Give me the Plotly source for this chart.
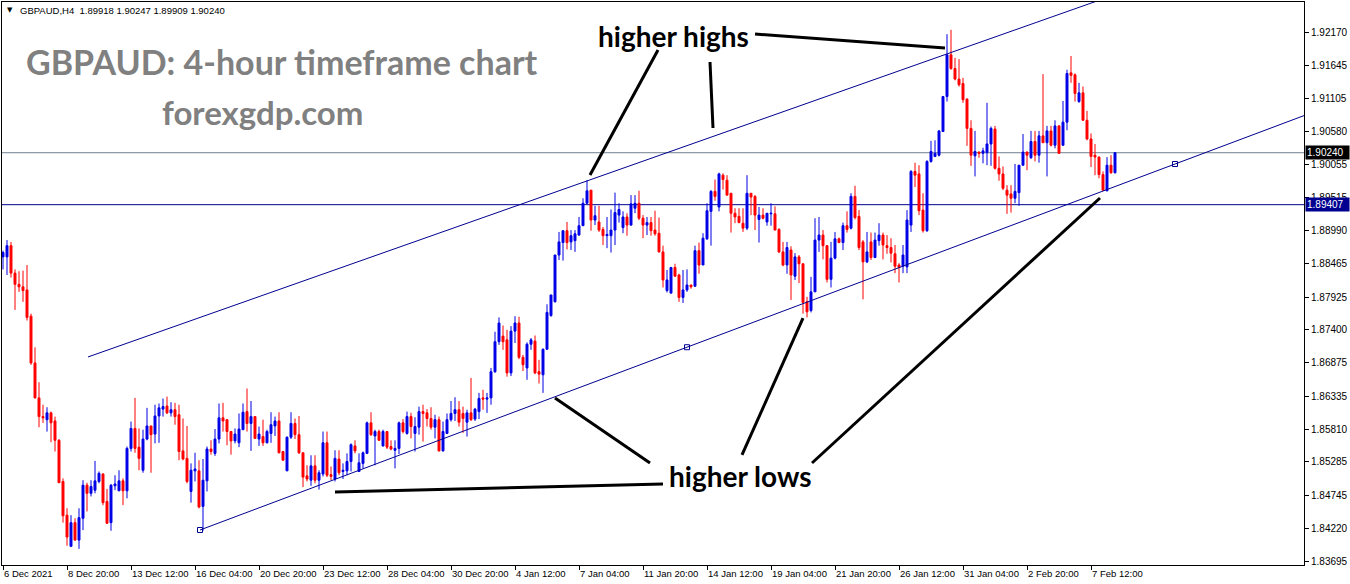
import plotly.graph_objects as go

# ---------------- data (GBPAUD H4 candles) ----------------
opens = [1.8857,1.8857,1.8875,1.8831,1.8813,1.8809,1.8804,1.8762,1.8687,1.8631,
1.8601,1.8596,1.8607,1.8594,1.8563,1.8497,1.8443,1.8393,1.8431,1.8403,
1.8438,1.8491,1.8478,1.8483,1.8497,1.8509,1.8465,1.8431,1.8490,1.8482,
1.8498,1.8482,1.8550,1.8582,1.8552,1.8515,1.8565,1.8586,1.8573,1.8602,
1.8613,1.8618,1.8607,1.8612,1.8604,1.8546,1.8534,1.8481,1.8514,1.8514,
1.8457,1.8498,1.8549,1.8542,1.8565,1.8599,1.8596,1.8577,1.8562,1.8559,
1.8580,1.8609,1.8590,1.8601,1.8565,1.8569,1.8559,1.8574,1.8586,1.8594,
1.8545,1.8514,1.8568,1.8590,1.8572,1.8543,1.8506,1.8499,1.8522,1.8499,
1.8509,1.8559,1.8508,1.8501,1.8533,1.8513,1.8514,1.8529,1.8554,1.8513,
1.8526,1.8542,1.8591,1.8570,1.8577,1.8554,1.8577,1.8553,1.8547,1.8550,
1.8591,1.8574,1.8601,1.8574,1.8584,1.8609,1.8607,1.8598,1.8584,1.8596,
1.8546,1.8574,1.8596,1.8606,1.8612,1.8606,1.8592,1.8607,1.8597,1.8609,
1.8631,1.8629,1.8631,1.8673,1.8721,1.8730,1.8724,1.8671,1.8738,1.8751,
1.8696,1.8679,1.8717,1.8722,1.8673,1.8668,1.8709,1.8763,1.8785,1.8860,
1.8880,1.8899,1.8881,1.8883,1.8892,1.8907,1.8943,1.8964,1.8916,1.8913,
1.8901,1.8891,1.8891,1.8900,1.8924,1.8904,1.8921,1.8908,1.8935,1.8943,
1.8919,1.8908,1.8912,1.8900,1.8895,1.8865,1.8803,1.8799,1.8840,1.8828,
1.8792,1.8804,1.8812,1.8810,1.8867,1.8844,1.8886,1.8930,1.8962,1.8937,
1.8988,1.8980,1.8959,1.8927,1.8922,1.8911,1.8903,1.8959,1.8954,1.8917,
1.8924,1.8913,1.8926,1.8926,1.8901,1.8865,1.8844,1.8868,1.8826,1.8857,
1.8846,1.8785,1.8771,1.8801,1.8884,1.8892,1.8875,1.8821,1.8855,1.8886,
1.8880,1.8907,1.8903,1.8954,1.8922,1.8881,1.8849,1.8881,1.8856,1.8883,
1.8892,1.8875,1.8872,1.8862,1.8844,1.8842,1.8841,1.8908,1.8994,1.8990,
1.8932,1.8899,1.9010,1.9018,1.9020,1.9058,1.9114,1.9181,1.9159,1.9142,
1.9135,1.9110,1.9063,1.9019,1.9025,1.9023,1.9024,1.9038,1.9062,1.8999,
1.8990,1.8964,1.8958,1.8951,1.8960,1.9004,1.9025,1.9016,1.9042,1.9020,
1.9051,1.9040,1.9059,1.9036,1.9067,1.9036,1.9073,1.9152,1.9149,1.9106,
1.9120,1.9076,1.9046,1.9020,1.9017,1.8989,1.8963,1.9004,1.89918]

highs = [1.8867,1.8884,1.8881,1.8837,1.8834,1.8835,1.8844,1.8766,1.8712,1.8656,
1.8620,1.8616,1.8609,1.8601,1.8565,1.8502,1.8454,1.8443,1.8438,1.8454,
1.8499,1.8495,1.8499,1.8530,1.8513,1.8510,1.8485,1.8493,1.8507,1.8515,
1.8502,1.8553,1.8593,1.8631,1.8582,1.8580,1.8615,1.8586,1.8620,1.8622,
1.8630,1.8633,1.8624,1.8623,1.8620,1.8598,1.8586,1.8526,1.8543,1.8531,
1.8533,1.8553,1.8563,1.8581,1.8622,1.8623,1.8597,1.8578,1.8582,1.8606,
1.8622,1.8646,1.8626,1.8601,1.8585,1.8596,1.8580,1.8608,1.8601,1.8608,
1.8545,1.8569,1.8608,1.8598,1.8602,1.8543,1.8523,1.8539,1.8539,1.8515,
1.8577,1.8577,1.8521,1.8547,1.8547,1.8526,1.8542,1.8558,1.8563,1.8542,
1.8545,1.8593,1.8608,1.8580,1.8580,1.8580,1.8577,1.8563,1.8563,1.8593,
1.8597,1.8609,1.8607,1.8600,1.8617,1.8620,1.8613,1.8616,1.8604,1.8601,
1.8593,1.8606,1.8626,1.8632,1.8626,1.8617,1.8612,1.8663,1.8615,1.8639,
1.8644,1.8639,1.8679,1.8737,1.8760,1.8747,1.8740,1.8746,1.8762,1.8761,
1.8700,1.8720,1.8727,1.8731,1.8692,1.8710,1.8781,1.8796,1.8860,1.8897,
1.8899,1.8913,1.8900,1.8900,1.8921,1.8951,1.8980,1.8964,1.8939,1.8939,
1.8905,1.8921,1.8933,1.8960,1.8943,1.8930,1.8927,1.8956,1.8956,1.8963,
1.8924,1.8921,1.8921,1.8931,1.8920,1.8875,1.8836,1.8841,1.8846,1.8830,
1.8836,1.8837,1.8812,1.8875,1.8880,1.8895,1.8943,1.8964,1.8981,1.8992,
1.8991,1.8988,1.8959,1.8935,1.8935,1.8935,1.8988,1.8959,1.8956,1.8937,
1.8935,1.8927,1.8943,1.8938,1.8903,1.8881,1.8881,1.8874,1.8863,1.8860,
1.8846,1.8793,1.8825,1.8919,1.8921,1.8900,1.8876,1.8881,1.8897,1.8888,
1.8912,1.8930,1.8959,1.8971,1.8932,1.8884,1.8897,1.8896,1.8896,1.8911,
1.8896,1.8892,1.8887,1.8876,1.8847,1.8876,1.8932,1.8996,1.9008,1.9004,
1.8959,1.9012,1.9043,1.9044,1.9060,1.9115,1.9214,1.9221,1.9176,1.9174,
1.9144,1.9111,1.9076,1.9059,1.9026,1.9032,1.9104,1.9066,1.9067,1.9018,
1.9002,1.8972,1.8972,1.9006,1.9004,1.9054,1.9026,1.9059,1.9059,1.9059,
1.9150,1.9067,1.9067,1.9076,1.9068,1.9107,1.9157,1.9179,1.9151,1.9136,
1.9130,1.9091,1.9055,1.9038,1.9018,1.8994,1.9017,1.9020,1.90247]

lows = [1.8837,1.8828,1.8824,1.8772,1.8801,1.8785,1.8755,1.8684,1.8630,1.8584,
1.8591,1.8577,1.8560,1.8545,1.8495,1.8431,1.8394,1.8393,1.8402,1.8389,
1.8419,1.8449,1.8473,1.8478,1.8494,1.8459,1.8429,1.8418,1.8483,1.8482,
1.8459,1.8470,1.8545,1.8543,1.8515,1.8511,1.8563,1.8511,1.8558,1.8559,
1.8601,1.8605,1.8601,1.8588,1.8531,1.8531,1.8494,1.8463,1.8497,1.8454,
1.8418,1.8481,1.8540,1.8538,1.8558,1.8577,1.8555,1.8540,1.8558,1.8552,
1.8580,1.8577,1.8546,1.8565,1.8554,1.8554,1.8558,1.8559,1.8570,1.8542,
1.8531,1.8514,1.8565,1.8565,1.8541,1.8488,1.8497,1.8490,1.8494,1.8484,
1.8505,1.8504,1.8499,1.8497,1.8507,1.8501,1.8507,1.8513,1.8542,1.8513,
1.8518,1.8541,1.8570,1.8523,1.8562,1.8553,1.8549,1.8547,1.8518,1.8541,
1.8574,1.8572,1.8566,1.8545,1.8572,1.8561,1.8585,1.8580,1.8566,1.8545,
1.8545,1.8573,1.8593,1.8594,1.8585,1.8575,1.8569,1.8594,1.8594,1.8597,
1.8612,1.8607,1.8620,1.8671,1.8716,1.8708,1.8665,1.8666,1.8719,1.8693,
1.8674,1.8660,1.8708,1.8669,1.8654,1.8639,1.8708,1.8761,1.8784,1.8852,
1.8851,1.8869,1.8868,1.8865,1.8891,1.8907,1.8942,1.8899,1.8908,1.8897,
1.8876,1.8871,1.8864,1.8876,1.8912,1.8895,1.8891,1.8907,1.8927,1.8916,
1.8887,1.8892,1.8891,1.8891,1.8864,1.8808,1.8800,1.8798,1.8825,1.8785,
1.8783,1.8801,1.8806,1.8809,1.8830,1.8844,1.8884,1.8875,1.8947,1.8930,
1.8965,1.8956,1.8896,1.8911,1.8911,1.8897,1.8900,1.8924,1.8900,1.8880,
1.8917,1.8907,1.8907,1.8900,1.8863,1.8842,1.8830,1.8788,1.8820,1.8815,
1.8766,1.8760,1.8768,1.8801,1.8865,1.8853,1.8816,1.8808,1.8853,1.8879,
1.8868,1.8896,1.8901,1.8917,1.8868,1.8789,1.8847,1.8852,1.8855,1.8875,
1.8853,1.8862,1.8848,1.8831,1.8816,1.8831,1.8831,1.8897,1.8969,1.8924,
1.8896,1.8897,1.9008,1.9017,1.9018,1.9058,1.9106,1.9157,1.9140,1.9130,
1.9104,1.9035,1.9003,1.8986,1.9016,1.9007,1.9004,1.9003,1.8997,1.8979,
1.8964,1.8926,1.8928,1.8943,1.8939,1.9003,1.8996,1.9014,1.9010,1.9008,
1.9040,1.8986,1.9034,1.9031,1.9023,1.9035,1.9060,1.9136,1.9106,1.9104,
1.9075,1.9044,1.9001,1.8988,1.8983,1.8963,1.8962,1.8990,1.89909]

closes = [1.8864,1.8875,1.8831,1.8813,1.8809,1.8803,1.8760,1.8687,1.8631,1.8601,
1.8599,1.8607,1.8591,1.8563,1.8495,1.8442,1.8408,1.8431,1.8403,1.8439,
1.8491,1.8478,1.8489,1.8498,1.8510,1.8463,1.8430,1.8491,1.8493,1.8498,
1.8482,1.8550,1.8582,1.8550,1.8534,1.8565,1.8586,1.8572,1.8602,1.8615,
1.8617,1.8607,1.8612,1.8601,1.8545,1.8533,1.8497,1.8515,1.8517,1.8456,
1.8499,1.8549,1.8545,1.8565,1.8599,1.8594,1.8577,1.8562,1.8573,1.8581,
1.8608,1.8590,1.8601,1.8566,1.8573,1.8559,1.8577,1.8588,1.8594,1.8543,
1.8531,1.8568,1.8590,1.8572,1.8543,1.8504,1.8501,1.8522,1.8499,1.8511,
1.8559,1.8507,1.8505,1.8534,1.8511,1.8515,1.8529,1.8556,1.8546,1.8527,
1.8543,1.8591,1.8572,1.8577,1.8563,1.8577,1.8552,1.8549,1.8550,1.8591,
1.8577,1.8601,1.8585,1.8585,1.8609,1.8606,1.8598,1.8584,1.8596,1.8546,
1.8577,1.8596,1.8606,1.8612,1.8592,1.8598,1.8607,1.8596,1.8613,1.8630,
1.8629,1.8631,1.8673,1.8721,1.8751,1.8721,1.8671,1.8738,1.8751,1.8696,
1.8684,1.8717,1.8724,1.8671,1.8669,1.8709,1.8768,1.8796,1.8860,1.8881,
1.8899,1.8880,1.8891,1.8894,1.8907,1.8943,1.8963,1.8916,1.8923,1.8900,
1.8891,1.8893,1.8900,1.8928,1.8933,1.8921,1.8908,1.8942,1.8943,1.8919,
1.8908,1.8912,1.8899,1.8894,1.8865,1.8820,1.8820,1.8840,1.8826,1.8792,
1.8804,1.8812,1.8809,1.8867,1.8844,1.8887,1.8931,1.8962,1.8954,1.8990,
1.8981,1.8956,1.8927,1.8921,1.8912,1.8903,1.8959,1.8953,1.8924,1.8924,
1.8919,1.8927,1.8927,1.8900,1.8865,1.8844,1.8872,1.8828,1.8857,1.8846,
1.8784,1.8769,1.8801,1.8884,1.8892,1.8875,1.8821,1.8855,1.8886,1.8880,
1.8907,1.8901,1.8954,1.8920,1.8872,1.8849,1.8865,1.8856,1.8884,1.8892,
1.8876,1.8872,1.8863,1.8842,1.8840,1.8860,1.8916,1.8994,1.8988,1.8931,
1.8899,1.9010,1.9026,1.9023,1.9059,1.9114,1.9181,1.9159,1.9142,1.9133,
1.9109,1.9063,1.9020,1.9026,1.9023,1.9027,1.9038,1.9063,1.8999,1.8990,
1.8967,1.8956,1.8951,1.8962,1.9004,1.9025,1.9020,1.9042,1.9020,1.9051,
1.9040,1.9059,1.9036,1.9067,1.9023,1.9073,1.9151,1.9148,1.9119,1.9120,
1.9076,1.9046,1.9018,1.9017,1.8989,1.8964,1.9004,1.8992,1.90240]

bar_index = list(range(len(opens)))

date_labels = ["6 Dec 2021", "8 Dec 20:00", "13 Dec 12:00", "16 Dec 04:00", "20 Dec 20:00",
               "23 Dec 12:00", "28 Dec 04:00", "30 Dec 20:00", "4 Jan 12:00", "7 Jan 04:00",
               "11 Jan 20:00", "14 Jan 12:00", "19 Jan 04:00", "21 Jan 20:00", "26 Jan 12:00",
               "31 Jan 04:00", "2 Feb 20:00", "7 Feb 12:00"]
date_label_bars = [0, 16, 32, 48, 64, 80, 96, 112, 128, 144, 160, 176, 192, 208, 224, 240, 256, 272]

price_ticks = [1.92170, 1.91645, 1.91105, 1.90580, 1.90055, 1.89515, 1.88990, 1.88465, 1.87925,
               1.87400, 1.86875, 1.86335, 1.85810, 1.85285, 1.84745, 1.84220, 1.83695]

last_price = 1.90240
support_level = 1.89407

# trend lines (bar index, price)
upper_trend_x = [21.25, 275.0]
upper_trend_y = [1.86966, 1.92706]
lower_trend_x = [49.25, 325.25]
lower_trend_y = [1.84192, 1.90835]
lower_anchor_x = [49.25, 171.0, 293.0]
lower_anchor_y = [1.84192, 1.87122, 1.90059]

# pointer segments: (x0, y0, x1, y1) in bar index / price
highs_pointers = [(163.75, 1.91887, 146.75, 1.89882),
                  (176.75, 1.91694, 177.5, 1.90636),
                  (188.0, 1.92143, 235.5, 1.91919)]
lows_pointers = [(165.0, 1.84929, 83.0, 1.84801),
                 (161.75, 1.85266, 138.0, 1.86308),
                 (184.75, 1.85395, 200.0, 1.87590),
                 (202.25, 1.85266, 274.25, 1.89514)]

# ---------------- style ----------------
BULL = "#0000e6"
BEAR = "#ff0000"
NAVY = "#000090"
TICK_FONT = dict(family="Liberation Sans", size=10, color="black")

fig = go.Figure()

fig.add_trace(go.Candlestick(
    x=bar_index, open=opens, high=highs, low=lows, close=closes,
    increasing=dict(line=dict(color=BULL, width=1), fillcolor=BULL),
    decreasing=dict(line=dict(color=BEAR, width=1), fillcolor=BEAR),
    whiskerwidth=0, showlegend=False, hoverinfo="skip"))

fig.add_trace(go.Scatter(x=upper_trend_x, y=upper_trend_y, mode="lines",
                         line=dict(color=NAVY, width=1), showlegend=False, hoverinfo="skip"))
fig.add_trace(go.Scatter(x=lower_trend_x, y=lower_trend_y, mode="lines",
                         line=dict(color=NAVY, width=1), showlegend=False, hoverinfo="skip"))
fig.add_trace(go.Scatter(x=lower_anchor_x, y=lower_anchor_y, mode="markers",
                         marker=dict(symbol="square-open", size=5, color=NAVY, line=dict(width=1)),
                         showlegend=False, hoverinfo="skip"))

shapes = [
    dict(type="line", xref="paper", x0=0, x1=1, yref="y", y0=last_price, y1=last_price,
         line=dict(color="#708090", width=1), layer="below"),
    dict(type="line", xref="paper", x0=0, x1=1, yref="y", y0=support_level, y1=support_level,
         line=dict(color=NAVY, width=1), layer="below"),
]
for (x0, y0, x1, y1) in highs_pointers + lows_pointers:
    shapes.append(dict(type="line", xref="x", yref="y", x0=x0, y0=y0, x1=x1, y1=y1,
                       line=dict(color="black", width=3)))

annotations = [
    dict(text="\u25bc", xref="paper", yref="paper", x=0.0058, y=0.9857, showarrow=False,
         xanchor="center", yanchor="middle", font=dict(family="DejaVu Sans", size=7, color="black")),
    dict(text="GBPAUD,H4\u00a0\u00a01.89918 1.90247 1.89909 1.90240", xref="paper", yref="paper",
         x=0.0123, y=0.9857, showarrow=False, xanchor="left", yanchor="middle",
         font=dict(family="Liberation Sans", size=9.5, color="black")),
    dict(text="GBPAUD: 4-hour timeframe chart", xref="paper", yref="paper", x=0.2154, y=0.8947,
         showarrow=False, xanchor="center", yanchor="middle",
         font=dict(family="Lato", size=34, color="#808080", weight="bold")),
    dict(text="forexgdp.com", xref="paper", yref="paper", x=0.1997, y=0.8046,
         showarrow=False, xanchor="center", yanchor="middle",
         font=dict(family="Lato", size=33, color="#808080", weight="bold")),
    dict(text="higher highs", xref="x", yref="y", x=167.5, y=1.92119, showarrow=False,
         xanchor="center", yanchor="middle",
         font=dict(family="Lato", size=28, color="black", weight="bold")),
    dict(text="higher lows", xref="x", yref="y", x=184.25, y=1.85050, showarrow=False,
         xanchor="center", yanchor="middle",
         font=dict(family="Lato", size=28, color="black", weight="bold")),
    dict(text=f"{last_price:.5f}", xref="paper", yref="y", x=1, xshift=1, y=last_price,
         showarrow=False, xanchor="left", yanchor="middle", bgcolor="black",
         font=dict(family="Liberation Sans", size=10, color="white"), width=41, height=11,
         align="left", borderpad=1),
    dict(text=f"{support_level:.5f}", xref="paper", yref="y", x=1, xshift=1, y=support_level,
         showarrow=False, xanchor="left", yanchor="middle", bgcolor=NAVY,
         font=dict(family="Liberation Sans", size=10, color="white"), width=41, height=11,
         align="left", borderpad=1),
]

fig.update_layout(
    width=1350, height=584, autosize=False,
    margin=dict(l=2, r=46, t=2, b=19, autoexpand=False),
    paper_bgcolor="white", plot_bgcolor="white",
    boxgap=0.3, hovermode=False,
    shapes=shapes, annotations=annotations,
    xaxis=dict(range=[-0.25, 325.25], rangeslider=dict(visible=False), showgrid=False,
               zeroline=False, showline=True, linecolor="black", linewidth=1, mirror=True,
               ticks="outside", ticklen=4, tickcolor="black", tickvals=date_label_bars,
               ticktext=date_labels, ticklabelposition="outside right", tickangle=0,
               automargin=False,
               tickfont=dict(family="Liberation Sans", size=9.5, color="black")),
    yaxis=dict(range=[1.83631, 1.92656], side="right", showgrid=False, zeroline=False,
               showline=True, linecolor="black", linewidth=1, mirror=True, automargin=False,
               ticks="outside", ticklen=4, tickcolor="black", tickvals=price_ticks,
               ticktext=[f"{v:.5f}" for v in price_ticks], tickfont=TICK_FONT),
)

fig.write_html("out.html", config={"displayModeBar": False, "staticPlot": True},
               post_script="document.body.style.margin='0';document.body.style.overflow='hidden';")
